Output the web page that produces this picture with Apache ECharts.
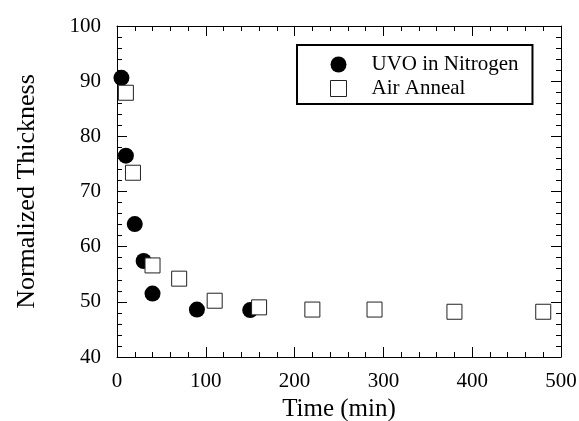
<!DOCTYPE html>
<html>
<head>
<meta charset="utf-8">
<script src="https://cdn.jsdelivr.net/npm/echarts@6/dist/echarts.min.js"></script>
<style>
  html, body { margin: 0; padding: 0; background: #fff; }
  #chart { width: 579px; height: 421px; }
</style>
</head>
<body>
<div id="chart"></div>
<script>
// UVO in Nitrogen: [time (min), normalized thickness]
const uvoNitrogen = [
  [5, 90.6], [10, 76.5], [20, 64.1], [30, 57.4], [40, 51.5], [90, 48.6], [150, 48.5]
];
// Air Anneal
const airAnneal = [
  [10, 87.9], [18, 73.4], [40, 56.6], [70, 54.2], [110, 50.2], [160, 49.0],
  [220, 48.6], [290, 48.6], [380, 48.2], [480, 48.2]
];
const seriesNames = ['UVO in Nitrogen', 'Air Anneal'];

const font = 'Liberation Serif, Times New Roman, serif';

// 轴的公共样式：刻度朝里，四边都有
function axisBase(showLabel) {
  return {
    axisLine: { show: true, onZero: false, lineStyle: { color: '#000', width: 1 } },
    axisTick: { show: true, inside: true, length: 10, lineStyle: { color: '#000' } },
    minorTick: { show: true, splitNumber: 5, length: 5, lineStyle: { color: '#000' } },
    splitLine: { show: false },
    axisLabel: { show: showLabel, color: '#000', fontFamily: font, fontSize: 21 }
  }
}

let myChart = echarts.init(document.getElementById('chart'))
myChart.setOption({
  animation: false,
  backgroundColor: '#fff',
  grid: { left: 117, top: 26, right: 18, bottom: 64, outerBoundsMode: 'none', containLabel: false },
  legend: {
    data: [
      { name: seriesNames[0], icon: 'circle', itemStyle: { color: '#000', opacity: 1 } },
      { name: seriesNames[1], icon: 'rect', itemStyle: { color: '#fff', borderColor: '#222', borderWidth: 1, opacity: 1 } }
    ],
    orient: 'vertical',
    left: 297,
    top: 45,
    padding: [9, 14, 5, 33],
    itemGap: 3,
    itemWidth: 16,
    itemHeight: 16,
    borderColor: '#000',
    borderWidth: 2,
    textStyle: { color: '#000', fontFamily: font, fontSize: 21, lineHeight: 16, padding: [0, 0, 0, 20] }
  },
  xAxis: [
    {
      type: 'value', min: 0, max: 500, interval: 100, position: 'bottom',
      name: 'Time (min)', nameLocation: 'middle', nameGap: 38,
      nameTextStyle: { color: '#000', fontFamily: font, fontSize: 25 },
      ...axisBase(true),
      axisLabel: { color: '#000', fontFamily: font, fontSize: 21, margin: 14 }
    },
    {
      type: 'value', min: 0, max: 500, interval: 100, position: 'top',
      ...axisBase(false)
    }
  ],
  yAxis: [
    {
      type: 'value', min: 40, max: 100, interval: 10, position: 'left',
      name: 'Normalized Thickness', nameLocation: 'middle', nameGap: 77,
      nameTextStyle: { color: '#000', fontFamily: font, fontSize: 26 },
      ...axisBase(true),
      axisLabel: { color: '#000', fontFamily: font, fontSize: 21, margin: 16 }
    },
    {
      type: 'value', min: 40, max: 100, interval: 10, position: 'right',
      ...axisBase(false)
    }
  ],
  series: [
    {
      name: seriesNames[0],
      type: 'scatter',
      data: uvoNitrogen,
      symbol: 'circle',
      symbolSize: 16,
      itemStyle: { color: '#000', opacity: 1 }
    },
    {
      name: seriesNames[1],
      type: 'scatter',
      data: airAnneal,
      symbol: 'rect',
      symbolSize: 15,
      itemStyle: { color: '#fff', borderColor: '#222', borderWidth: 1, opacity: 1 }
    }
  ]
})
</script>
</body>
</html>
